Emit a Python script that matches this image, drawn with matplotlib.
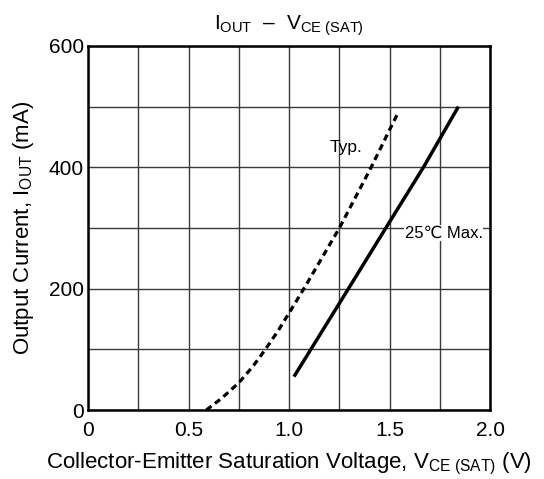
import matplotlib
matplotlib.use('Agg')
import matplotlib.pyplot as plt
from matplotlib.ticker import MultipleLocator

plt.rcParams['font.family'] = ['Liberation Sans', 'DejaVu Sans']
plt.rcParams['mathtext.fontset'] = 'custom'
plt.rcParams['mathtext.rm'] = 'Liberation Sans'
plt.rcParams['mathtext.it'] = 'Liberation Sans'

# Typ. curve (dashed)
typ_v = [0.588, 0.663, 0.75, 0.82, 0.882, 0.944, 1.00, 1.077, 1.25, 1.408, 1.50, 1.545]
typ_i = [0, 19, 45, 72, 100, 130, 160, 202, 300, 400, 462, 492]

# 25C Max. curve (solid)
max_v = [1.024, 1.295, 1.481, 1.668, 1.842]
max_i = [55, 200, 300, 400, 500]

fig = plt.figure(figsize=(5.44, 4.79), dpi=100)
ax = fig.add_axes([0.162, 0.144, 0.739, 0.760])

ax.plot(typ_v, typ_i, color='black', linewidth=2.3, linestyle=(0, (2.0, 1.4)))
ax.plot(max_v, max_i, color='black', linewidth=2.5, solid_capstyle='butt')

ax.set_xlim(0, 2.0)
ax.set_ylim(0, 600)
ax.xaxis.set_minor_locator(MultipleLocator(0.25))
ax.yaxis.set_major_locator(MultipleLocator(200))
ax.yaxis.set_minor_locator(MultipleLocator(100))
ax.set_xticks([0, 0.5, 1.0, 1.5, 2.0])
ax.set_xticklabels(['0', '0.5', '1.0', '1.5', '2.0'])
ax.grid(True, which='both', color='#3a3a3a', linewidth=1.0)
ax.set_axisbelow(True)
ax.tick_params(which='both', length=0, labelsize=15)
ax.tick_params(axis='x', pad=8)
ax.tick_params(axis='y', pad=3)
for s in ax.spines.values():
    s.set_linewidth(1.8)

ax.text(1.284, 432, 'Typ.', fontsize=12.5, ha='center', va='center')
ax.text(1.575, 292, '25℃ Max.', fontsize=12, ha='left', va='center',
        bbox=dict(facecolor='white', edgecolor='none', pad=0.5))

ax.set_title(r'$\mathregular{I_{OUT}}$  –  $\mathregular{V_{CE\ (SAT)}}$', fontsize=15, pad=12)
ax.set_xlabel(r'Collector-Emitter Saturation Voltage, $\mathregular{V_{CE\ (SAT)}}$ (V)', fontsize=16, labelpad=8)
ax.set_ylabel(r'Output Current, $\mathregular{I_{OUT}}$ (mA)', fontsize=16, labelpad=9)

fig.savefig('out.png', dpi=100, facecolor='white')
